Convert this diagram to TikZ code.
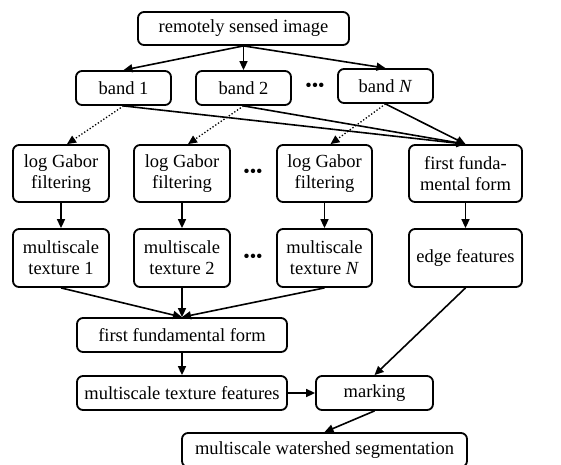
\documentclass[tikz,border=0pt]{standalone}
\usepackage{fontspec}
\setmainfont{Liberation Serif}
\usetikzlibrary{positioning, arrows.meta}

\begin{document}
\begin{tikzpicture}[x=1pt, y=-1pt,
  font=\fontsize{18.5}{21}\selectfont,
  box/.style={draw, line width=1.8pt, rounded corners=6pt, align=center, inner sep=0pt},
  arr/.style={-{Triangle[length=9pt, width=8pt]}, line width=1.6pt},
  dotarr/.style={-{Triangle[length=9pt, width=8pt]}, line width=1.3pt, dotted}]
\useasboundingbox (0,0) rectangle (561,464);

% input image and its bands
\node[box, minimum width=211pt, minimum height=33pt] (img) at (243.5,28.5) {remotely sensed image};
\node[box, minimum width=95pt, minimum height=34pt] (band1) at (123.5,88) {band 1};
\node[box, minimum width=95pt, minimum height=34pt] (band2) at (243.5,88) {band 2};
\node[box, minimum width=95pt, minimum height=34pt] (bandN) at (385.5,86) {band \textit{N}};
\node (dots1) at (315,87) {\textbullet\textbullet\textbullet};

% texture branch
\node[box, minimum width=96pt, minimum height=57pt] (log1) at (61,173.5) {log Gabor\\filtering};
\node[box, minimum width=96pt, minimum height=57pt] (log2) at (182,173.5) {log Gabor\\filtering};
\node[box, minimum width=95pt, minimum height=57pt] (logN) at (324.5,173.5) {log Gabor\\filtering};
\node (dots2) at (253,173) {\textbullet\textbullet\textbullet};

\node[box, minimum width=96pt, minimum height=58pt] (tex1) at (61,258) {multiscale\\texture 1};
\node[box, minimum width=96pt, minimum height=58pt] (tex2) at (182,258) {multiscale\\texture 2};
\node[box, minimum width=95pt, minimum height=58pt] (texN) at (324.5,258) {multiscale\\texture \textit{N}};
\node (dots3) at (253,258) {\textbullet\textbullet\textbullet};

% edge branch
\node[box, minimum width=113pt, minimum height=57pt] (ff1) at (465.5,173.5) {first funda-\\mental form};
\node[box, minimum width=113pt, minimum height=58pt] (edge) at (465.5,258) {edge features};

% merging and segmentation
\node[box, minimum width=210pt, minimum height=34pt] (ff2) at (182,335) {first fundamental form};
\node[box, minimum width=210pt, minimum height=34pt] (feat) at (182,393) {multiscale texture features};
\node[box, minimum width=117pt, minimum height=34pt] (mark) at (374.5,393) {marking};
\node[box, minimum width=285pt, minimum height=34pt] (seg) at (324.5,450) {multiscale watershed segmentation};

\draw[arr] (img.south) -- (band1.north);
\draw[arr] (img.south) -- (band2.north);
\draw[arr] (img.south) -- (bandN.north);

\draw[dotarr] (band1.south) -- ([xshift=6pt]log1.north);
\draw[dotarr] (band2.south) -- ([xshift=6pt]log2.north);
\draw[dotarr] (bandN.south) -- ([xshift=6pt]logN.north);
\draw[arr] (band1.south) -- (ff1.north);
\draw[arr] (band2.south) -- (ff1.north);
\draw[arr] (bandN.south) -- (ff1.north);

\draw[arr] (log1) -- (tex1);
\draw[arr] (log2) -- (tex2);
\draw[arr] (logN) -- (texN);
\draw[arr] (ff1) -- (edge);

\draw[arr] (tex1.south) -- (ff2.north);
\draw[arr] (tex2.south) -- (ff2.north);
\draw[arr] (texN.south) -- (ff2.north);
\draw[arr] (ff2) -- (feat);
\draw[arr] (feat) -- (mark);
\draw[arr] (edge.south) -- (mark.north);
\draw[arr] (mark.south) -- (seg.north);
\end{tikzpicture}
\end{document}
